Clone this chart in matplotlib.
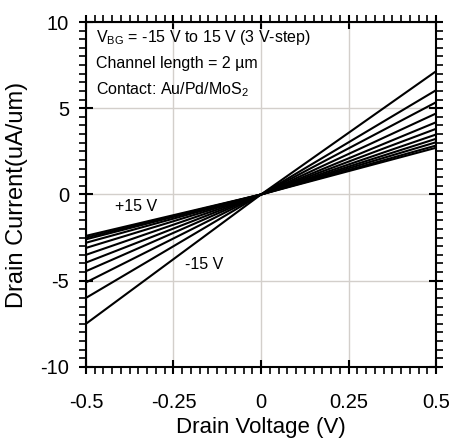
import matplotlib
matplotlib.use("Agg")
import matplotlib.pyplot as plt
from matplotlib.ticker import MultipleLocator

plt.rcParams['font.family'] = ['Liberation Sans', 'DejaVu Sans']

# Drain voltage sweep end points (V)
vd = [-0.5, 0.0, 0.5]
# Back-gate voltages (V), -15 V to 15 V in 3 V steps
vbg = [-15, -12, -9, -6, -3, 0, 3, 6, 9, 12, 15]
# Drain current (uA/um) at Vd = -0.5 V and Vd = +0.5 V for each gate voltage
id_neg = [-7.5, -6.0, -5.1, -4.45, -3.95, -3.5, -3.1, -2.8, -2.6, -2.5, -2.4]
id_pos = [7.15, 6.05, 5.35, 4.70, 4.19, 3.81, 3.48, 3.23, 3.03, 2.84, 2.71]

xticks = [-0.5, -0.25, 0, 0.25, 0.5]
xticklabels = ['-0.5', '-0.25', '0', '0.25', '0.5']
yticks = [-10, -5, 0, 5, 10]
yticklabels = ['-10', '-5', '0', '5', '10']

fig = plt.figure(figsize=(4.52, 4.40), dpi=100)
ax = fig.add_axes([0.190, 0.166, 0.775, 0.784])

for g, a, b in zip(vbg, id_neg, id_pos):
    ax.plot(vd, [a, 0.0, b], color='black', lw=1.5, solid_capstyle='butt')

ax.set_xlim(-0.5, 0.5)
ax.set_ylim(-10, 10)
ax.set_xticks(xticks)
ax.set_xticklabels(xticklabels)
ax.set_yticks(yticks)
ax.set_yticklabels(yticklabels)
ax.xaxis.set_minor_locator(MultipleLocator(0.025))
ax.yaxis.set_minor_locator(MultipleLocator(0.5))

ax.grid(True, which='major', color='#d3cfcb', lw=1.0)
ax.set_axisbelow(True)

for s in ax.spines.values():
    s.set_linewidth(1.5)

ax.tick_params(which='major', direction='inout', length=10, width=1.5,
               labelsize=14.5, top=True, right=True)
ax.tick_params(which='minor', direction='out', length=5, width=1.2,
               top=True, right=True)
ax.tick_params(axis='x', which='major', pad=14)
ax.tick_params(axis='y', which='major', pad=7)

ax.set_xlabel('Drain Voltage (V)', fontsize=16, labelpad=3)
ax.set_ylabel('Drain Current(uA/um)', fontsize=17, labelpad=9)

fs = 11.5
ax.text(-0.47, 9.1, r'V$_{\mathregular{BG}}$ = -15 V to 15 V (3 V-step)',
        fontsize=fs, va='center', ha='left')
ax.text(-0.47, 7.6, 'Channel length = 2 µm', fontsize=fs, va='center', ha='left')
ax.text(-0.47, 6.05, r'Contact: Au/Pd/MoS$_{\mathregular{2}}$', fontsize=fs,
        va='center', ha='left')
ax.text(-0.418, -0.7, '+15 V', fontsize=fs, va='center', ha='left')
ax.text(-0.218, -4.05, '-15 V', fontsize=fs, va='center', ha='left')

fig.savefig('out.png', dpi=100)
